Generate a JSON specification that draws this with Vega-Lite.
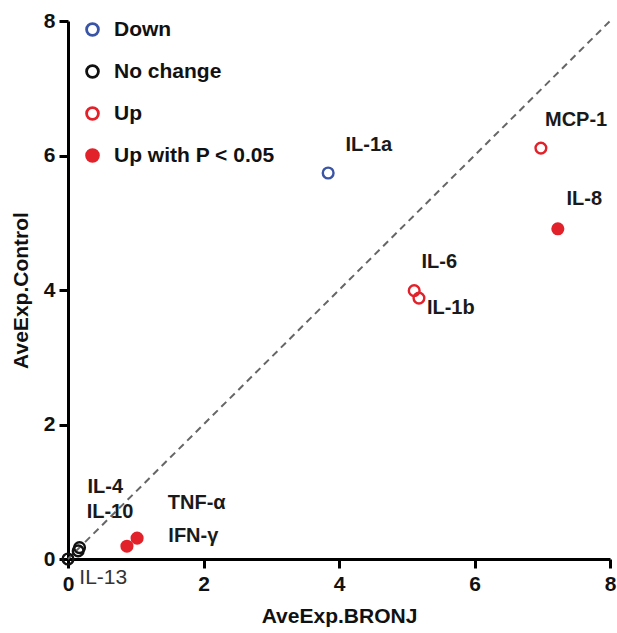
{
  "$schema": "https://vega.github.io/schema/vega-lite/v6.json",
  "autosize": "none",
  "width": 542,
  "height": 538,
  "padding": {"left": 68, "top": 21, "right": 7, "bottom": 74},
  "background": "white",
  "config": {
    "view": {"stroke": null},
    "font": "Liberation Sans"
  },
  "datasets": {
    "points": [
      {"gene": "IL-1a", "bronj": 3.84, "control": 5.74, "status": "Down"},
      {"gene": "MCP-1", "bronj": 6.98, "control": 6.11, "status": "Up"},
      {"gene": "IL-8", "bronj": 7.23, "control": 4.91, "status": "Up with P < 0.05"},
      {"gene": "IL-6", "bronj": 5.11, "control": 3.99, "status": "Up"},
      {"gene": "IL-1b", "bronj": 5.18, "control": 3.88, "status": "Up"},
      {"gene": "TNF-α", "bronj": 1.02, "control": 0.31, "status": "Up with P < 0.05"},
      {"gene": "IFN-γ", "bronj": 0.87, "control": 0.19, "status": "Up with P < 0.05"},
      {"gene": "IL-4", "bronj": 0.17, "control": 0.17, "status": "No change"},
      {"gene": "IL-10", "bronj": 0.15, "control": 0.12, "status": "No change"},
      {"gene": "IL-13", "bronj": 0.0, "control": 0.0, "status": "No change"}
    ],
    "labels": [
      {"gene": "IL-1a", "lx": 4.44, "ly": 6.16, "bold": true},
      {"gene": "MCP-1", "lx": 7.5, "ly": 6.53, "bold": true},
      {"gene": "IL-8", "lx": 7.62, "ly": 5.35, "bold": true},
      {"gene": "IL-6", "lx": 5.48, "ly": 4.42, "bold": true},
      {"gene": "IL-1b", "lx": 5.65, "ly": 3.73, "bold": true},
      {"gene": "TNF-α", "lx": 1.9, "ly": 0.83, "bold": true},
      {"gene": "IFN-γ", "lx": 1.85, "ly": 0.34, "bold": true},
      {"gene": "IL-4", "lx": 0.55, "ly": 1.07, "bold": true},
      {"gene": "IL-10", "lx": 0.62, "ly": 0.7, "bold": true},
      {"gene": "IL-13", "lx": 0.52, "ly": -0.28, "bold": false}
    ],
    "diag": [
      {"bronj": 0, "control": 0},
      {"bronj": 8, "control": 8}
    ]
  },
  "layer": [
    {
      "data": {"name": "diag"},
      "mark": {"type": "line", "color": "#666666", "strokeWidth": 2, "strokeDash": [7, 5]},
      "encoding": {
        "x": {"field": "bronj", "type": "quantitative"},
        "y": {"field": "control", "type": "quantitative"}
      }
    },
    {
      "data": {"name": "points"},
      "mark": {"type": "point", "shape": "circle", "size": 115, "strokeWidth": 2.4, "opacity": 1},
      "encoding": {
        "x": {
          "field": "bronj", "type": "quantitative",
          "scale": {"domain": [0, 8], "nice": false},
          "axis": {
            "title": "AveExp.BRONJ", "values": [0, 2, 4, 6, 8], "format": "d", "grid": false,
            "domainColor": "black", "domainWidth": 3, "tickColor": "black", "tickWidth": 3, "tickSize": 9,
            "labelFont": "Liberation Sans", "labelFontWeight": "bold", "labelFontSize": 21, "labelColor": "#111",
            "labelPadding": 5, "labelFlush": false,
            "titleFont": "Liberation Sans", "titleFontWeight": "bold", "titleFontSize": 21, "titleColor": "#111", "titlePadding": 11
          }
        },
        "y": {
          "field": "control", "type": "quantitative",
          "scale": {"domain": [0, 8], "nice": false},
          "axis": {
            "title": "AveExp.Control", "values": [0, 2, 4, 6, 8], "format": "d", "grid": false,
            "domainColor": "black", "domainWidth": 3, "tickColor": "black", "tickWidth": 3, "tickSize": 9,
            "labelFont": "Liberation Sans", "labelFontWeight": "bold", "labelFontSize": 21, "labelColor": "#111",
            "labelPadding": 4, "labelFlush": false,
            "titleFont": "Liberation Sans", "titleFontWeight": "bold", "titleFontSize": 21, "titleColor": "#111", "titlePadding": 12
          }
        },
        "stroke": {
          "field": "status", "type": "nominal",
          "scale": {"domain": ["Down", "No change", "Up", "Up with P < 0.05"], "range": ["#3b55a6", "#111111", "#e2222b", "#e2222b"]},
          "legend": {
            "title": null, "orient": "none", "legendX": 14, "legendY": -2,
            "symbolSize": 140, "symbolStrokeWidth": 2.8, "rowPadding": 17, "labelLimit": 400,
            "labelFont": "Liberation Sans", "labelFontWeight": "bold", "labelFontSize": 21, "labelColor": "#111",
            "labelOffset": 11
          }
        },
        "fill": {
          "field": "status", "type": "nominal",
          "scale": {"domain": ["Down", "No change", "Up", "Up with P < 0.05"], "range": ["transparent", "transparent", "transparent", "#e2222b"]},
          "legend": {
            "title": null, "orient": "none", "legendX": 14, "legendY": -2,
            "symbolSize": 140, "symbolStrokeWidth": 2.8, "rowPadding": 17, "labelLimit": 400,
            "labelFont": "Liberation Sans", "labelFontWeight": "bold", "labelFontSize": 21, "labelColor": "#111",
            "labelOffset": 11
          }
        }
      }
    },
    {
      "data": {"name": "labels"},
      "transform": [{"filter": "datum.bold"}],
      "mark": {"type": "text", "font": "Liberation Sans", "fontWeight": "bold", "fontSize": 20, "color": "#1a1a1a", "align": "center", "baseline": "middle"},
      "encoding": {
        "x": {"field": "lx", "type": "quantitative"},
        "y": {"field": "ly", "type": "quantitative"},
        "text": {"field": "gene"}
      }
    },
    {
      "data": {"name": "labels"},
      "transform": [{"filter": "!datum.bold"}],
      "mark": {"type": "text", "font": "Liberation Sans", "fontWeight": "normal", "fontSize": 21, "color": "#333333", "align": "center", "baseline": "middle"},
      "encoding": {
        "x": {"field": "lx", "type": "quantitative"},
        "y": {"field": "ly", "type": "quantitative"},
        "text": {"field": "gene"}
      }
    }
  ]
}
